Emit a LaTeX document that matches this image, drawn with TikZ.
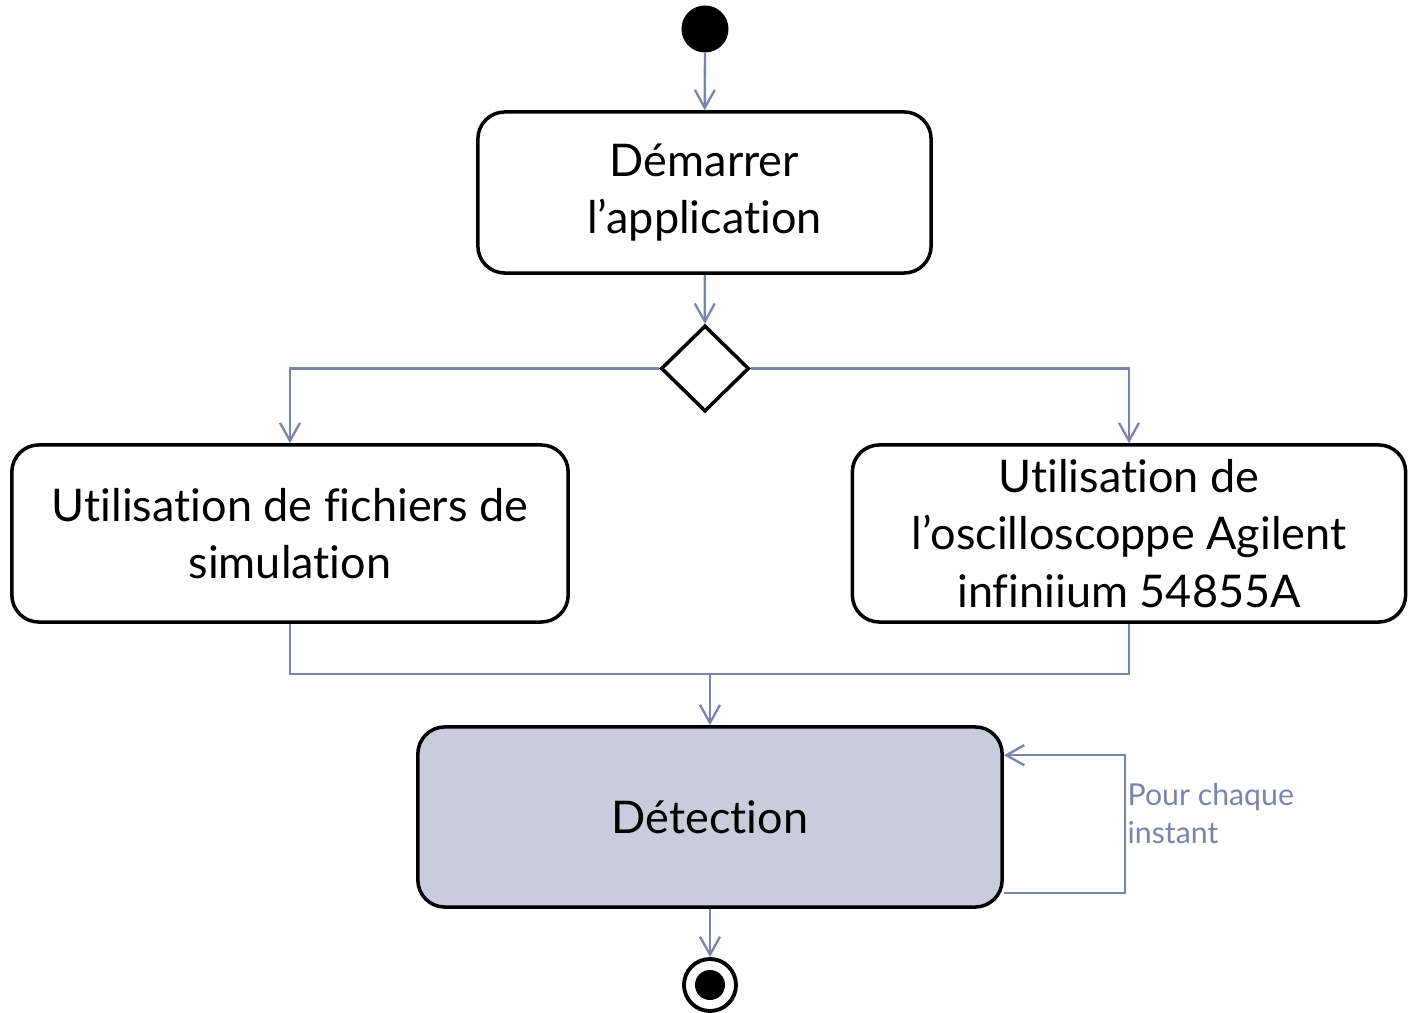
\documentclass[tikz,border=0pt]{standalone}
\usepackage{fontspec}
\setmainfont{Lato}[Ligatures=NoCommon]
\usetikzlibrary{shapes.geometric,arrows.meta}
\definecolor{lnc}{HTML}{7A83AC}
\definecolor{detfill}{HTML}{C9CCDB}
\begin{document}
\begin{tikzpicture}[x=0.01cm,y=-0.01cm,
  act/.style={draw=black,line width=1pt,rounded corners=0.27cm,font=\fontsize{12.8}{16.4}\selectfont,align=center,inner sep=0pt},
  lnline/.style={draw=lnc,line width=0.65pt},
  conn/.style={lnline,-{Straight Barb[length=1.8mm,width=2.0mm,line width=0.65pt]}},
  dec/.style={diamond,draw=black,line width=1pt,minimum width=0.88cm,minimum height=0.86cm,inner sep=0pt},
  lbl/.style={text=lnc,align=left,font=\fontsize{8.6}{10.8}\selectfont,inner sep=0pt}]
\useasboundingbox (0,0) rectangle (1408,1013);
\node[circle,fill=black,minimum size=0.47cm,inner sep=0pt] (start) at (705,29) {};
\node[act,minimum width=4.53cm,minimum height=1.61cm] (a1) at (704.5,192.5) {\raisebox{-0.1cm}{\parbox{4cm}{\centering Démarrer\\l’application}}};
\node[dec] (d) at (705,368.5) {};
\node[act,minimum width=5.56cm,minimum height=1.77cm] (a2) at (290,533.5) {Utilisation de fichiers de\\simulation};
\node[act,minimum width=5.53cm,minimum height=1.77cm] (a3) at (1129,533.5) {Utilisation de\\l’oscilloscoppe Agilent\\infiniium 54855A};
\node[act,fill=detfill,minimum width=5.84cm,minimum height=1.80cm] (det) at (710,817) {Détection};
\node[circle,draw=black,line width=1.1pt,minimum size=0.52cm,inner sep=0pt] (end) at (710,985) {};
\fill[black] (end.center) circle (0.15cm);
\coordinate (m) at (710,674);
\node[lbl,anchor=north west] (note) at (1127,783) {Pour chaque\\instant};
\draw[conn] (start) -- (a1);
\draw[conn] (a1) -- (d);
\draw[conn] (d.west) -| (a2);
\draw[conn] (d.east) -| (a3);
\draw[lnline] (a2.south) -- (a2.south |- m) -- (a3.south |- m) -- (a3.south);
\draw[conn] (m) -- (det);
\draw[conn] ([yshift=0.16cm]det.south east) -- ++(1.21cm,0) |- ([yshift=-0.30cm]det.north east);
\draw[conn] (det) -- (end);
\end{tikzpicture}
\end{document}
